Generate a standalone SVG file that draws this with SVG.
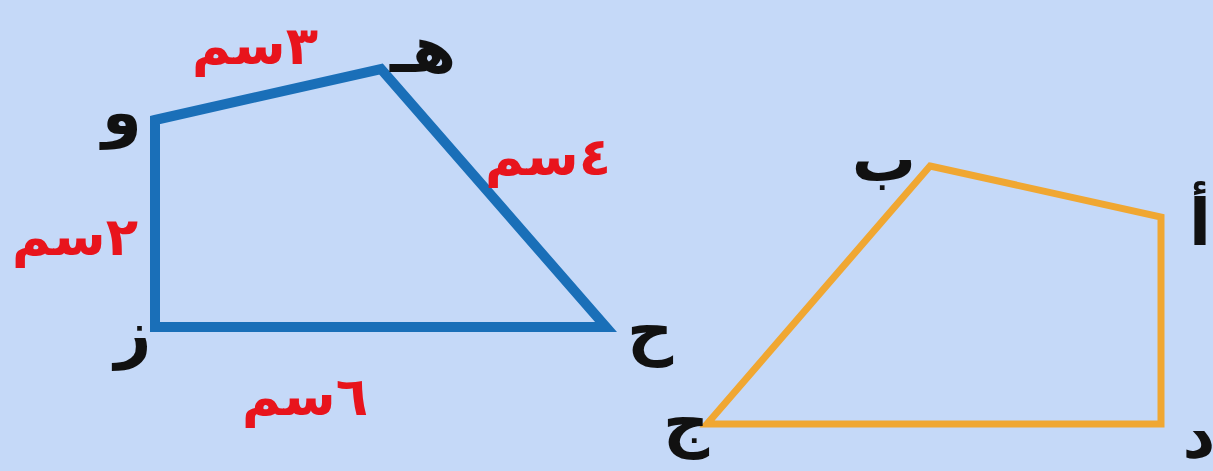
<svg xmlns="http://www.w3.org/2000/svg" width="1213" height="471" viewBox="0 0 1213 471">
<style>
.lbl{font-family:"DejaVu Sans","Noto Sans",sans-serif;font-weight:bold;font-size:53px;fill:#e8141c;text-anchor:middle}
.v{font-family:"DejaVu Sans","Noto Sans",sans-serif;font-weight:bold;font-size:64px;fill:#111;text-anchor:middle}
.blue{fill:none;stroke:#1a6fb8;stroke-width:10;stroke-linejoin:miter}
.orange{fill:none;stroke:#f0a732;stroke-width:7;stroke-linejoin:miter}
</style>
<rect width="1213" height="471" fill="#c5d9f8"/>
<g id="connectors">
<polygon class="blue" points="155,120 381,69 606,327 155,327"/>
<polygon class="orange" points="930,166 1161,217 1161,424 707,424"/>
</g>
<g id="node-h"><text class="v" x="423" y="72" direction="rtl">هـ</text></g>
<g id="node-w"><text class="v" x="122" y="134" direction="rtl">و</text></g>
<g id="node-z"><text class="v" x="133" y="355" direction="rtl">ز</text></g>
<g id="node-ha"><text class="v" x="650" y="352" direction="rtl">ح</text></g>
<g id="node-b"><text class="v" x="884" y="181" direction="rtl">ب</text></g>
<g id="node-a"><text class="v" x="1200" y="245" direction="rtl">أ</text></g>
<g id="node-d"><text class="v" x="1199" y="458" direction="rtl">د</text></g>
<g id="node-j"><text class="v" x="686" y="444" direction="rtl">ج</text></g>
<g id="labels">
<text class="lbl" x="255" y="64" direction="rtl">٣سم</text>
<text class="lbl" x="548" y="175" direction="rtl">٤سم</text>
<text class="lbl" x="75" y="255" direction="rtl">٢سم</text>
<text class="lbl" x="305" y="415" direction="rtl">٦سم</text>
</g>
</svg>
